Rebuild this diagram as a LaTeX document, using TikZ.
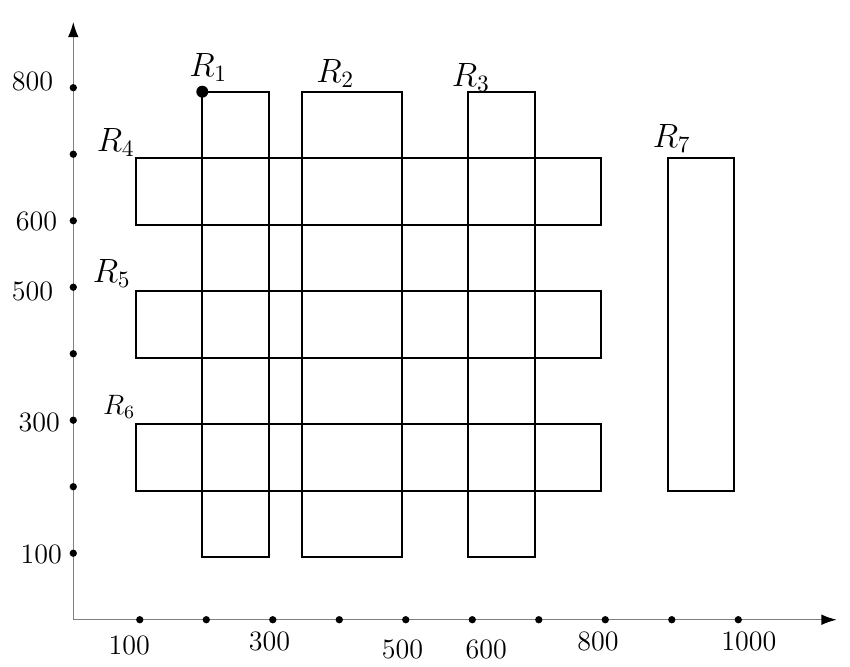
\documentclass[tikz,border=0pt]{standalone}
\usepackage{amsmath}
\usetikzlibrary{arrows.meta,positioning}
\tikzset{%
	axis/.style     = {draw=gray, line width=0.6pt, -{Latex[length=2.3mm,width=1.6mm,black]}},
	region/.style   = {draw, line width=0.9pt}, % rectangle R_i
	tickdot/.style  = {circle, fill, inner sep=0pt, minimum size=1.1mm},
	ticklabel/.style= {font=\large, inner sep=1pt},
	rlabel/.style   = {font=\Large, inner sep=0pt},
}

\begin{document}
\begin{tikzpicture}
	\useasboundingbox (-1.102,-0.696) rectangle (11.68,9.319);
	\coordinate (o) at (0,0);
	\coordinate (xend) at (11.48,0);
	\coordinate (yend) at (0,8.99);
	\draw[axis] (o) -- (xend);
	\draw[axis] (o) -- (yend);
	\foreach \i in {1,...,10} \node[tickdot] (x\i) at (\i,0) {};
	\foreach \j in {1,...,8} \node[tickdot] (y\j) at (0,\j) {};
	
	% tick labels
	\node[ticklabel] (lx1) at (0.84,-0.38) {100};
	\node[ticklabel] (lx3) at (2.95,-0.33) {300};
	\node[ticklabel] (lx5) at (4.95,-0.44) {500};
	\node[ticklabel] (lx6) at (6.21,-0.45) {600};
	\node[ticklabel] (lx8) at (7.89,-0.33) {800};
	\node[ticklabel] (lx10) at (10.16,-0.33) {1000};
	\node[ticklabel,anchor=east] (ly8) at (-0.26,8.09) {800};
	\node[ticklabel,anchor=east] (ly6) at (-0.20,5.99) {600};
	\node[ticklabel,anchor=east] (ly5) at (-0.26,4.93) {500};
	\node[ticklabel,anchor=east] (ly3) at (-0.16,2.97) {300};
	\node[ticklabel,anchor=east] (ly1) at (-0.13,0.98) {100};
	
	% rectangles
	\begin{scope}[shift={(-0.06,-0.06)}]
		\draw[region] (2,1) rectangle (3,8);
		\draw[region] (3.5,1) rectangle (5,8);
		\draw[region] (6,1) rectangle (7,8);
		\draw[region] (1,6) rectangle (8,7);
		\draw[region] (1,4) rectangle (8,5);
		\draw[region] (1,2) rectangle (8,3);
		\draw[region] (9,2) rectangle (10,7);
		\node[tickdot,minimum size=1.8mm] (c1) at (2,8) {};
	\end{scope}
	
	\node[rlabel] (r1) at (2.03,8.30) {$R_1$};
	\node[rlabel] (r2) at (3.94,8.21) {$R_2$};
	\node[rlabel] (r3) at (5.98,8.16) {$R_3$};
	\node[rlabel] (r4) at (0.64,7.18) {$R_4$};
	\node[rlabel] (r5) at (0.58,5.21) {$R_5$};
	\node[rlabel,font=\large] (r6) at (0.69,3.20) {$R_6$};
	\node[rlabel] (r7) at (9.00,7.23) {$R_7$};
\end{tikzpicture}
\end{document}
